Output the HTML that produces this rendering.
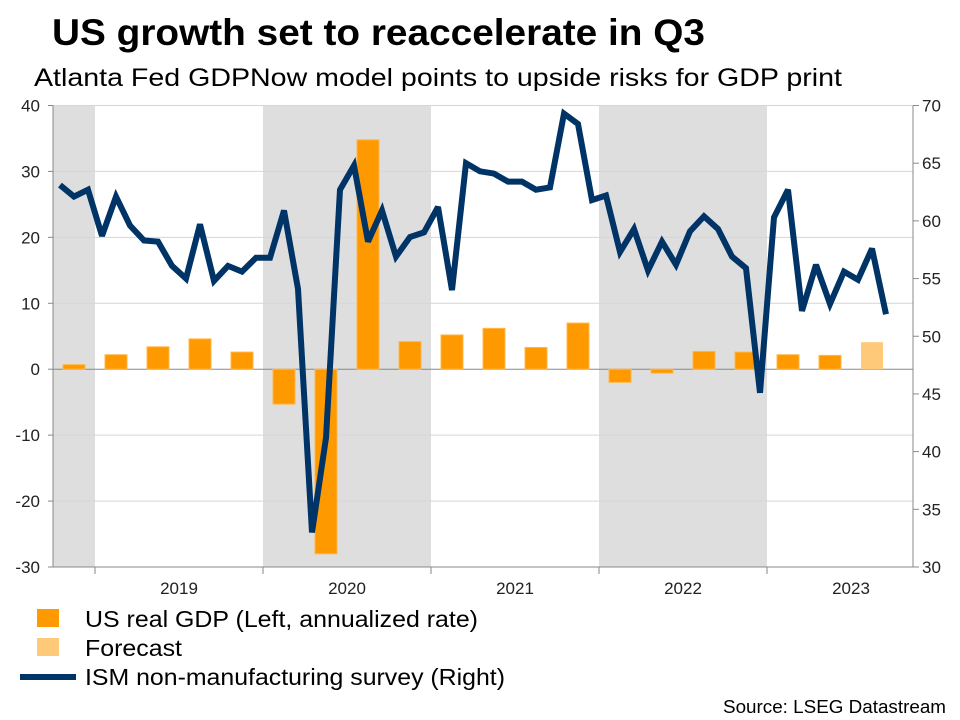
<!DOCTYPE html>
<html><head><meta charset="utf-8"><style>
body{margin:0;background:#fff;font-family:"Liberation Sans",Arial,sans-serif;}
#wrap{position:relative;width:960px;height:720px;overflow:hidden;}
</style></head><body>
<div id="wrap">
<svg id="chart" width="960" height="720" xmlns="http://www.w3.org/2000/svg">
<text x="52" y="45" font-size="37" font-weight="bold" fill="#000" textLength="653" lengthAdjust="spacingAndGlyphs">US growth set to reaccelerate in Q3</text>
<text x="34" y="86" font-size="25" fill="#000" textLength="808" lengthAdjust="spacingAndGlyphs">Atlanta Fed GDPNow model points to upside risks for GDP print</text>
<g id="plot"></g>
<g>
<g><rect x="37" y="609" width="22" height="18" fill="#ff9900"/><text x="85" y="627" font-size="23" textLength="393" lengthAdjust="spacingAndGlyphs">US real GDP (Left, annualized rate)</text></g>
<g><rect x="37" y="638" width="22" height="18" fill="#ffc97a"/><text x="85" y="656" font-size="23" textLength="97" lengthAdjust="spacingAndGlyphs">Forecast</text></g>
<g><line x1="20" y1="677" x2="76" y2="677" stroke="#003366" stroke-width="6"/><text x="85" y="685" font-size="23" textLength="420" lengthAdjust="spacingAndGlyphs">ISM non-manufacturing survey (Right)</text></g>
</g>
<text x="946" y="713" font-size="18" text-anchor="end" textLength="223" lengthAdjust="spacingAndGlyphs">Source: LSEG Datastream</text>
</svg>
</div>
<script>
const yearLabels = ["2019","2020","2021","2022","2023"];
const leftTicks = [40,30,20,10,0,-10,-20,-30];
const rightTicks = [70,65,60,55,50,45,40,35,30];
// quarterly GDP, starting 2018Q4
const gdpValues = [0.7,2.2,3.4,4.6,2.6,-5.3,-28.0,34.8,4.2,5.2,6.2,3.3,7.0,-2.0,-0.6,2.7,2.6,2.2,2.1,4.1];
const gdpForecast = [false,false,false,false,false,false,false,false,false,false,false,false,false,false,false,false,false,false,false,true];
// monthly ISM services, starting Oct 2018
const ismValues = [63.1,62.1,62.7,58.7,62.1,59.6,58.3,58.2,56.1,55.0,59.7,54.8,56.1,55.6,56.8,56.8,60.9,54.1,33.0,41.2,62.7,64.8,58.2,60.9,56.9,58.6,59.0,61.2,54.0,65.0,64.3,64.1,63.4,63.4,62.7,62.9,69.3,68.4,61.8,62.2,57.3,59.3,55.7,58.2,56.2,59.1,60.4,59.3,56.9,55.9,45.1,60.3,62.7,52.2,56.2,52.8,55.6,54.9,57.6,51.9];
const shadedYears = [2020,2022];

const NS="http://www.w3.org/2000/svg";
const g=document.getElementById('plot');
const X0=53,X1=913,Y0=105.5,Y1=567;
const monthW=14;
const xMonth=m=>X0+monthW*m;
const yL=v=>Y0+(40-v)/70*(Y1-Y0);
const yR=v=>Y0+(70-v)/40*(Y1-Y0);
function mk(t,a){const e=document.createElementNS(NS,t);for(const k in a)e.setAttribute(k,a[k]);g.appendChild(e);return e;}

let e=mk('rect',{x:X0,y:Y0,width:xMonth(3)-X0,height:Y1-Y0,fill:'#dedede'});


shadedYears.forEach(yr=>{const m=(yr-2019)*12+3;
 const r=mk('rect',{x:xMonth(m),y:Y0,width:monthW*12,height:Y1-Y0,fill:'#dedede'});
 
 });
leftTicks.forEach(v=>{
 const l=mk('line',{x1:X0,x2:X1,y1:yL(v),y2:yL(v),stroke:v===0?'#888':'#d6d6d6','stroke-width':1});
 
 
 mk('line',{x1:X0-5,x2:X0,y1:yL(v),y2:yL(v),stroke:'#888'});
 const t=mk('text',{x:40,y:yL(v)+6,'font-size':17,'text-anchor':'end',fill:'#222'});t.textContent=v;
 
 
});
rightTicks.forEach(v=>{
 mk('line',{x1:X1,x2:X1+6,y1:yR(v),y2:yR(v),stroke:'#888'});
 const t=mk('text',{x:922,y:yR(v)+6,'font-size':17,fill:'#222'});t.textContent=v;
 
 
});
gdpValues.forEach((v,i)=>{
 const cx=xMonth(3*i+1.5);const y=Math.min(yL(v),yL(0));
 const b=mk('rect',{x:cx-11,y:y,width:22,height:Math.abs(yL(v)-yL(0)),fill:gdpForecast[i]?'#ffc97a':'#ff9900',stroke:gdpForecast[i]?'none':'#ffb84d','stroke-width':1});
 
 
});
const pts=ismValues.map((v,i)=>xMonth(i+0.5).toFixed(1)+','+yR(v).toFixed(1)).join(' ');
const pl=mk('polyline',{points:pts,fill:'none',stroke:'#003366','stroke-width':6,'stroke-linejoin':'miter','stroke-miterlimit':3});


mk('line',{x1:X0,x2:X0,y1:Y0,y2:Y1,stroke:'#888'});
mk('line',{x1:X1,x2:X1,y1:Y0,y2:Y1,stroke:'#888'});
mk('line',{x1:X0,x2:X1,y1:Y1,y2:Y1,stroke:'#888'});
for(let k=0;k<5;k++){const x=xMonth(3+12*k);mk('line',{x1:x,x2:x,y1:Y1,y2:Y1+7,stroke:'#888'});}
yearLabels.forEach((s,k)=>{const t=mk('text',{x:xMonth(9+12*k),y:594,'font-size':17,'text-anchor':'middle',fill:'#222'});t.textContent=s;
 
 });
</script>
</body></html>
